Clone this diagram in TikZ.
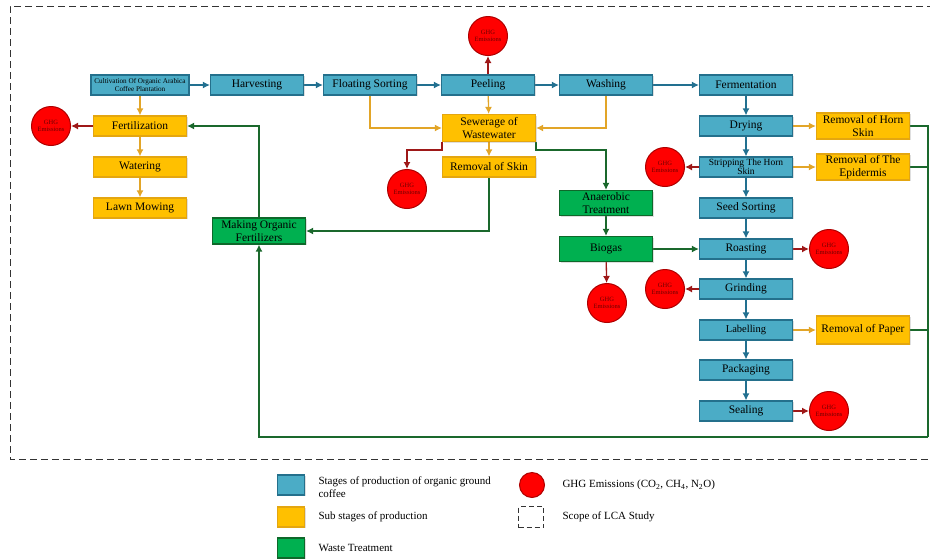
\documentclass[tikz,border=0pt]{standalone}
\usepackage{fontspec}
\setmainfont{Liberation Serif}
\usetikzlibrary{arrows.meta}
\usetikzlibrary{shadows}
\pgfdeclarelayer{edgelayer}
\pgfdeclarelayer{nodelayer}
\pgfsetlayers{edgelayer,nodelayer,main}
\definecolor{stagefill}{RGB}{75,172,198}
\definecolor{stageline}{RGB}{36,112,140}
\definecolor{subfill}{RGB}{255,192,0}
\definecolor{subline}{RGB}{228,166,16}
\definecolor{wastefill}{RGB}{0,176,80}
\definecolor{wasteline}{RGB}{14,104,42}
\definecolor{ghgfill}{RGB}{255,0,0}
\definecolor{ghgline}{RGB}{175,0,0}
\definecolor{ghgtext}{RGB}{110,0,0}
\definecolor{blueflow}{RGB}{34,112,144}
\definecolor{yellowflow}{RGB}{226,165,40}
\definecolor{greenflow}{RGB}{26,104,44}
\definecolor{redflow}{RGB}{158,24,24}
\tikzstyle{stage}=[rectangle,fill=stagefill,draw=stageline,line width=1.2pt,minimum width=93pt,minimum height=20pt,inner sep=1pt,align=center,font=\fontsize{11.5}{12.5}\selectfont,drop shadow={shadow xshift=1pt,shadow yshift=-1pt,opacity=0.25}]
\tikzstyle{substage}=[stage,fill=subfill,draw=subline]
\tikzstyle{waste}=[stage,fill=wastefill,draw=wasteline]
\tikzstyle{ghg}=[circle,fill=ghgfill,draw=ghgline,line width=1pt,minimum size=39pt,inner sep=0pt,align=center,text=ghgtext,font=\fontsize{6.5}{7}\selectfont]
\tikzstyle{legendtext}=[anchor=west,align=left,font=\fontsize{11}{12.5}\selectfont]
\tikzstyle{mainflow}=[-{Latex[length=7pt,width=7pt]},draw=blueflow,line width=1.3pt]
\tikzstyle{subflow}=[-{Latex[length=7pt,width=7pt]},draw=yellowflow,line width=1.3pt]
\tikzstyle{wasteflow}=[-{Latex[length=7pt,width=7pt]},draw=greenflow,line width=1.3pt]
\tikzstyle{wastereturn}=[draw=greenflow,line width=1.3pt]
\tikzstyle{emission}=[-{Latex[length=7pt,width=7pt]},draw=redflow,line width=1.3pt]
\tikzstyle{scopeline}=[draw=black!80,line width=1pt,dash pattern=on 7pt off 4pt]
\begin{document}
\begin{tikzpicture}[x=1pt,y=1pt]
	\useasboundingbox (0,0) rectangle (930,-558);
	\begin{pgfonlayer}{nodelayer}
		\node [style=stage, minimum width=98pt, font=\fontsize{7.2}{8}\selectfont] (0) at (140, -85) {Cultivation Of Organic Arabica\\Coffee Plantation};
		\node [style=stage] (1) at (257, -85) {Harvesting};
		\node [style=stage] (2) at (370, -85) {Floating Sorting};
		\node [style=stage] (3) at (488, -85) {Peeling};
		\node [style=stage] (4) at (606, -85) {Washing};
		\node [style=stage] (5) at (746, -85) {Fermentation};
		\node [style=stage] (6) at (746, -126) {Drying};
		\node [style=stage, font=\fontsize{9.5}{9}\selectfont] (7) at (746, -167) {Stripping The Horn\\Skin};
		\node [style=stage] (8) at (746, -208) {Seed Sorting};
		\node [style=stage] (9) at (746, -249) {Roasting};
		\node [style=stage] (10) at (746, -289) {Grinding};
		\node [style=stage, font=\fontsize{10.5}{11}\selectfont] (11) at (746, -330) {Labelling};
		\node [style=stage] (12) at (746, -370) {Packaging};
		\node [style=stage] (13) at (746, -411) {Sealing};
		\node [style=substage] (14) at (140, -126) {Fertilization};
		\node [style=substage] (15) at (140, -167) {Watering};
		\node [style=substage] (16) at (140, -208) {Lawn Mowing};
		\node [style=substage, minimum height=27pt] (17) at (489, -128) {Sewerage of\\Wastewater};
		\node [style=substage] (18) at (489, -167) {Removal of Skin};
		\node [style=substage, minimum height=26pt] (19) at (863, -126) {Removal of Horn\\Skin};
		\node [style=substage, minimum height=26pt] (20) at (863, -167) {Removal of The\\Epidermis};
		\node [style=substage, minimum height=28pt] (21) at (863, -330) {Removal of Paper};
		\node [style=waste, minimum height=26pt] (22) at (259, -231) {Making Organic\\Fertilizers};
		\node [style=waste, minimum height=25pt] (23) at (606, -203) {Anaerobic\\Treatment};
		\node [style=waste, minimum height=25pt] (24) at (606, -249) {Biogas};
		\node [style=ghg] (25) at (51, -126) {GHG\\Emissions};
		\node [style=ghg] (26) at (488, -36) {GHG\\Emissions};
		\node [style=ghg] (27) at (407, -189) {GHG\\Emissions};
		\node [style=ghg] (28) at (607, -303) {GHG\\Emissions};
		\node [style=ghg] (29) at (665, -167) {GHG\\Emissions};
		\node [style=ghg] (30) at (829, -249) {GHG\\Emissions};
		\node [style=ghg] (31) at (665, -289) {GHG\\Emissions};
		\node [style=ghg] (32) at (829, -411) {GHG\\Emissions};
		\node [style=stage, minimum width=27pt, minimum height=20pt] (33) at (291, -485) {};
		\node [style=substage, minimum width=27pt, minimum height=20pt] (34) at (291, -517) {};
		\node [style=waste, minimum width=27pt, minimum height=20pt] (35) at (291, -548) {};
		\node [style=ghg, minimum size=25pt] (36) at (532, -485) {};
		\node [draw=black!80, line width=1pt, dash pattern=on 5pt off 3pt, minimum width=25pt, minimum height=21pt] (37) at (531, -517) {};
		\node [style=legendtext] (38) at (315, -487) {Stages of production of organic ground\\coffee};
		\node [style=legendtext] (39) at (315, -517) {Sub stages of production};
		\node [style=legendtext] (40) at (315, -548) {Waste Treatment};
		\node [style=legendtext] (41) at (559, -485) {GHG Emissions (CO\textsubscript{2}, CH\textsubscript{4}, N\textsubscript{2}O)};
		\node [style=legendtext] (42) at (559, -517) {Scope of LCA Study};
		\coordinate (43) at (945, -6);
		\coordinate (44) at (10, -6);
		\coordinate (45) at (10, -459);
		\coordinate (46) at (945, -459);
		\coordinate (47) at (928, -437);
	\end{pgfonlayer}
	\begin{pgfonlayer}{edgelayer}
		\draw [style=scopeline] (43) -- (44) -- (45) -- (46);
		\draw [style=mainflow] (0) to (1);
		\draw [style=mainflow] (1) to (2);
		\draw [style=mainflow] (2) to (3);
		\draw [style=mainflow] (3) to (4);
		\draw [style=mainflow] (4) to (5);
		\draw [style=mainflow] (5) to (6);
		\draw [style=mainflow] (6) to (7);
		\draw [style=mainflow] (7) to (8);
		\draw [style=mainflow] (8) to (9);
		\draw [style=mainflow] (9) to (10);
		\draw [style=mainflow] (10) to (11);
		\draw [style=mainflow] (11) to (12);
		\draw [style=mainflow] (12) to (13);
		\draw [style=subflow] (0) to (14);
		\draw [style=subflow] (14) to (15);
		\draw [style=subflow] (15) to (16);
		\draw [style=subflow] (2) |- (17);
		\draw [style=subflow] (4) |- (17);
		\draw [style=subflow] (3) to (17);
		\draw [style=subflow] (17) to (18);
		\draw [style=subflow] (6) to (19);
		\draw [style=subflow] (7) to (20);
		\draw [style=subflow] (11) to (21);
		\draw [style=emission] (14) to (25);
		\draw [style=emission] (3) to (26);
		\draw [style=emission] (17.south west) -- ++(0, -8) -| (27);
		\draw [style=emission] (24) to (28);
		\draw [style=emission] (7) to (29);
		\draw [style=emission] (9) to (30);
		\draw [style=emission] (10) to (31);
		\draw [style=emission] (13) to (32);
		\draw [style=wasteflow] (17.south east) -- ++(0, -8) -| (23);
		\draw [style=wasteflow] (23) to (24);
		\draw [style=wasteflow] (24) to (9);
		\draw [style=wasteflow] (18) |- (22);
		\draw [style=wasteflow] (22) |- (14);
		\draw [style=wastereturn] (19) -| (47);
		\draw [style=wastereturn] (20) -- (20 -| 47);
		\draw [style=wastereturn] (21) -- (21 -| 47);
		\draw [style=wasteflow] (47) -| (22);
	\end{pgfonlayer}
\end{tikzpicture}
\end{document}
